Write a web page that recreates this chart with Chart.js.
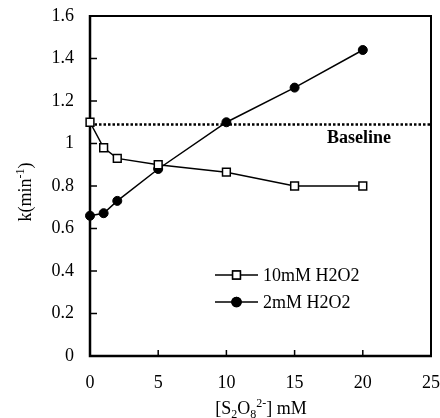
<!DOCTYPE html>
<html>
<head>
<meta charset="utf-8">
<script src="https://cdn.jsdelivr.net/npm/chart.js@4/dist/chart.umd.min.js"></script>
<style>
  html, body { margin:0; padding:0; background:#fff; }
  canvas { display:block; }
</style>
</head>
<body>
<canvas id="kChart" width="440" height="418"></canvas>
<script>
// data
const xConc   = [0, 1, 2, 5, 10, 15, 20];          // [S2O8 2-] mM
const k10mM   = [1.10, 0.98, 0.93, 0.90, 0.865, 0.80, 0.80];
const k2mM    = [0.66, 0.672, 0.73, 0.88, 1.10, 1.263, 1.44];
const baseX   = [0, 25];
const baseK   = [1.09, 1.09];
const xTicks  = [0, 5, 10, 15, 20, 25];
const yTicks  = [0, 0.2, 0.4, 0.6, 0.8, 1, 1.2, 1.4, 1.6];
const seriesNames = ['10mM H2O2', '2mM H2O2'];

const FONT = "'Liberation Serif', 'Times New Roman', serif";
const pts = (xs, ys) => xs.map((x, i) => ({ x, y: ys[i] }));

// frame + inward tick marks (drawn under the points)
const framePlugin = {
  id: 'frame',
  beforeDatasetsDraw(chart) {
    const { ctx, chartArea: a, scales: { x, y } } = chart;
    ctx.save();
    ctx.strokeStyle = '#000';
    ctx.lineWidth = 2;
    ctx.beginPath();
    ctx.moveTo(a.left, a.top); ctx.lineTo(a.right, a.top); ctx.lineTo(a.right, a.bottom);
    ctx.stroke();
    ctx.lineWidth = 2.5;
    ctx.beginPath();
    ctx.moveTo(a.left, a.top - 1); ctx.lineTo(a.left, a.bottom); ctx.lineTo(a.right + 1, a.bottom);
    ctx.stroke();
    ctx.lineWidth = 1.5;
    ctx.beginPath();
    xTicks.forEach(v => { const px = x.getPixelForValue(v); ctx.moveTo(px, a.bottom); ctx.lineTo(px, a.bottom - 6); });
    yTicks.forEach(v => { const py = y.getPixelForValue(v); ctx.moveTo(a.left, py); ctx.lineTo(a.left + 7, py); });
    ctx.stroke();
    ctx.restore();
  }
};

// text runs with sub/superscripts
function drawRuns(ctx, runs, startX, baseY) {
  let cx = startX;
  runs.forEach(r => {
    ctx.font = r.size + 'px ' + FONT;
    ctx.fillText(r.t, cx, baseY + (r.dy || 0));
    cx += ctx.measureText(r.t).width;
  });
}
function runsWidth(ctx, runs) {
  let w = 0;
  runs.forEach(r => { ctx.font = r.size + 'px ' + FONT; w += ctx.measureText(r.t).width; });
  return w;
}

const labelsPlugin = {
  id: 'labels',
  afterDraw(chart) {
    const { ctx } = chart;
    ctx.save();
    ctx.fillStyle = '#000';
    ctx.textBaseline = 'alphabetic';
    ctx.textAlign = 'left';

    // x title
    const xr = [
      { t: '[S', size: 18 }, { t: '2', size: 12, dy: 4 }, { t: 'O', size: 18 },
      { t: '8', size: 12, dy: 4 }, { t: '2-', size: 12, dy: -7 }, { t: '] mM', size: 18 }
    ];
    drawRuns(ctx, xr, 261 - runsWidth(ctx, xr) / 2, 414);

    // y title
    const yr = [ { t: 'k(min', size: 18 }, { t: '-1', size: 12, dy: -7 }, { t: ')', size: 18 } ];
    ctx.save();
    ctx.translate(31, 192);
    ctx.rotate(-Math.PI / 2);
    drawRuns(ctx, yr, -runsWidth(ctx, yr) / 2, 0);
    ctx.restore();

    // baseline label
    ctx.font = 'bold 18px ' + FONT;
    ctx.fillText('Baseline', 327, 143);

    // legend
    const rows = [275, 302];
    chart.data.datasets.slice(0, 2).forEach((ds, i) => {
      const yy = rows[i];
      ctx.strokeStyle = '#000';
      ctx.lineWidth = 1.5;
      ctx.beginPath(); ctx.moveTo(215, yy); ctx.lineTo(258, yy); ctx.stroke();
      Chart.helpers.drawPoint(ctx, {
        pointStyle: ds.pointStyle, radius: ds.pointRadius, borderWidth: ds.pointBorderWidth, rotation: 0
      }, 236.5, yy);
      ctx.fillStyle = ds.pointBackgroundColor;
      ctx.strokeStyle = '#000';
      ctx.fill(); ctx.stroke();
      ctx.fillStyle = '#000';
      ctx.font = '18px ' + FONT;
      ctx.fillText(seriesNames[i], 263, yy + 6);
    });
    ctx.restore();
  }
};

new Chart(document.getElementById('kChart'), {
  type: 'line',
  data: {
    datasets: [
      { label: seriesNames[0], data: pts(xConc, k10mM), borderColor: '#000', borderWidth: 1.5,
        pointStyle: 'rect', pointRadius: 5.5, pointBorderWidth: 1.5, clip: false,
        pointBackgroundColor: '#fff', pointBorderColor: '#000', tension: 0 },
      { label: seriesNames[1], data: pts(xConc, k2mM), borderColor: '#000', borderWidth: 1.5,
        pointStyle: 'circle', pointRadius: 4.5, pointBorderWidth: 1, clip: false,
        pointBackgroundColor: '#000', pointBorderColor: '#000', tension: 0 },
      { label: 'Baseline', data: pts(baseX, baseK), borderColor: '#000', borderWidth: 2.5,
        borderDash: [2.5, 2], pointRadius: 0, order: 5 }
    ]
  },
  options: {
    responsive: false, animation: false, devicePixelRatio: 1,
    layout: { padding: { top: 16, right: 9, left: 0, bottom: 0 } },
    plugins: { legend: { display: false }, tooltip: { enabled: false } },
    scales: {
      x: {
        type: 'linear', min: 0, max: 25,
        afterFit: s => { s.height = 62; s.paddingLeft = 0; s.paddingRight = 0; },
        afterBuildTicks: s => { s.ticks = xTicks.map(v => ({ value: v })); },
        grid: { display: false, drawTicks: false }, border: { display: false },
        ticks: { color: '#000', padding: 16, font: { family: FONT, size: 18 }, maxRotation: 0 }
      },
      y: {
        min: 0, max: 1.6,
        afterFit: s => { s.width = 90; s.paddingTop = 0; s.paddingBottom = 0; },
        afterBuildTicks: s => { s.ticks = yTicks.map(v => ({ value: v })); },
        grid: { display: false, drawTicks: false }, border: { display: false },
        ticks: { color: '#000', padding: 16, font: { family: FONT, size: 18 },
          callback: v => String(+(+v).toFixed(1)) }
      }
    }
  },
  plugins: [framePlugin, labelsPlugin]
});
</script>
</body>
</html>
